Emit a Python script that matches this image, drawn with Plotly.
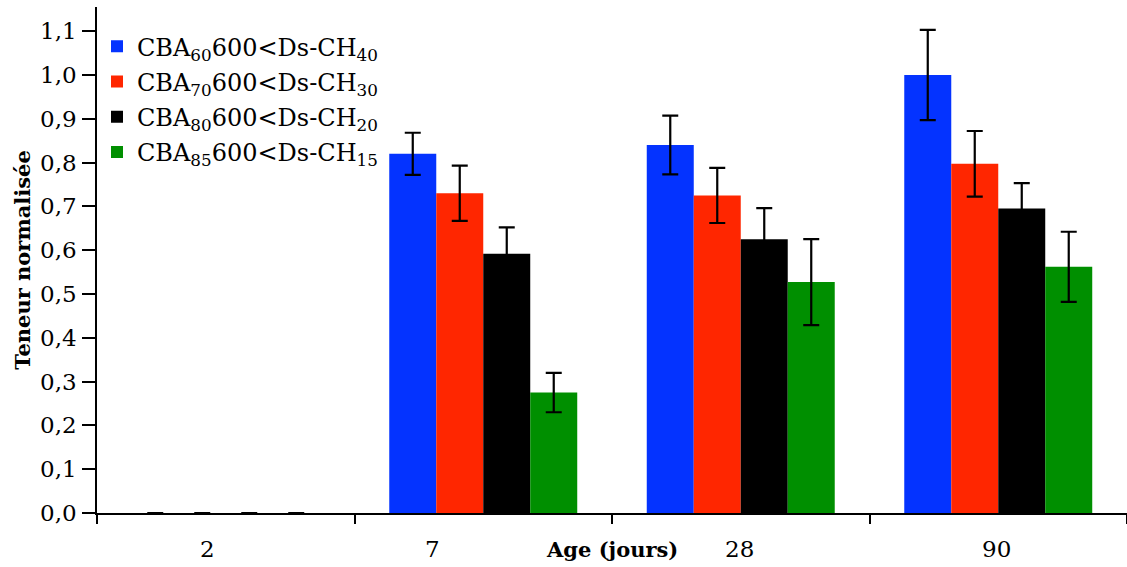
import plotly.graph_objects as go

ages = ["2", "7", "28", "90"]
series_names = [
    "CBA<sub>60</sub>600<Ds-CH<sub>40</sub>",
    "CBA<sub>70</sub>600<Ds-CH<sub>30</sub>",
    "CBA<sub>80</sub>600<Ds-CH<sub>20</sub>",
    "CBA<sub>85</sub>600<Ds-CH<sub>15</sub>",
]
colors = ["#0433FF", "#FF2600", "#000000", "#008F00"]
cba60 = [0.0, 0.82, 0.84, 1.00]
cba70 = [0.0, 0.73, 0.725, 0.797]
cba80 = [0.0, 0.592, 0.625, 0.695]
cba85 = [0.0, 0.275, 0.527, 0.562]
err60 = [0.0, 0.048, 0.067, 0.103]
err70 = [0.0, 0.063, 0.063, 0.075]
err80 = [0.0, 0.060, 0.071, 0.058]
err85 = [0.0, 0.045, 0.098, 0.080]
tick_labels = ["2", "7", "28", "90"]
label_shift = [-18, -51, -1, -2]

values = [cba60, cba70, cba80, cba85]
errors = [err60, err70, err80, err85]

fig = go.Figure()
for i, (name, vals, errs, col) in enumerate(zip(series_names, values, errors, colors)):
    fig.add_trace(go.Bar(
        x=ages, y=vals, name=name, marker=dict(color=col, line=dict(width=0)),
        legendgroup=f"g{i}",
        error_y=dict(type="data", array=errs, visible=True, color="black",
                     thickness=2.2, width=8),
    ))

annotations = []
for idx, (lab, sh) in enumerate(zip(tick_labels, label_shift)):
    annotations.append(dict(x=idx, xref="x", y=0, yref="paper", text=lab,
                            showarrow=False, yanchor="middle", yshift=-36, xshift=sh,
                            font=dict(family="DejaVu Serif", size=23, color="black")))
annotations.append(dict(x=0.5, xref="paper", y=0, yref="paper", text="<b>Age (jours)</b>",
                        showarrow=False, yanchor="middle", yshift=-36,
                        font=dict(family="DejaVu Serif", size=21, color="black")))

fig.update_layout(
    width=1127, height=567,
    margin=dict(l=97, r=0, t=7, b=54, autoexpand=False),
    paper_bgcolor="white", plot_bgcolor="white",
    barmode="group", bargap=0.27, bargroupgap=0,
    separators=", ",
    font=dict(family="DejaVu Serif", color="black"),
    showlegend=True,
    legend=dict(x=0.0, y=0.966, xanchor="left", yanchor="top",
                font=dict(family="DejaVu Serif", size=24, color="black"),
                bgcolor="rgba(0,0,0,0)", tracegroupgap=1),
    annotations=annotations,
    xaxis=dict(type="category", categoryorder="array", categoryarray=ages,
               range=[-0.5, 3.5], autorange=False, automargin=False,
               showticklabels=False, ticks="outside", tickson="boundaries",
               ticklen=9, tickwidth=1.5, tickcolor="black", showline=True, linecolor="black",
               linewidth=1.5, showgrid=False, zeroline=False),
    yaxis=dict(range=[0, 1.155], autorange=False, automargin=False,
               dtick=0.1, tick0=0, tickformat=".1f", ticks="outside",
               ticklen=13, tickwidth=1.5, tickcolor="black", showline=True, linecolor="black",
               linewidth=1.5, showgrid=False, zeroline=False, ticklabelstandoff=1,
               tickfont=dict(family="DejaVu Serif", size=23, color="black"),
               title=dict(text="<b>Teneur normalisée</b>", standoff=4,
                          font=dict(family="DejaVu Serif", size=21, color="black"))),
)

fig.write_html("out.html", config={"displayModeBar": False},
               post_script="document.body.style.margin='0';document.body.style.padding='0';")
